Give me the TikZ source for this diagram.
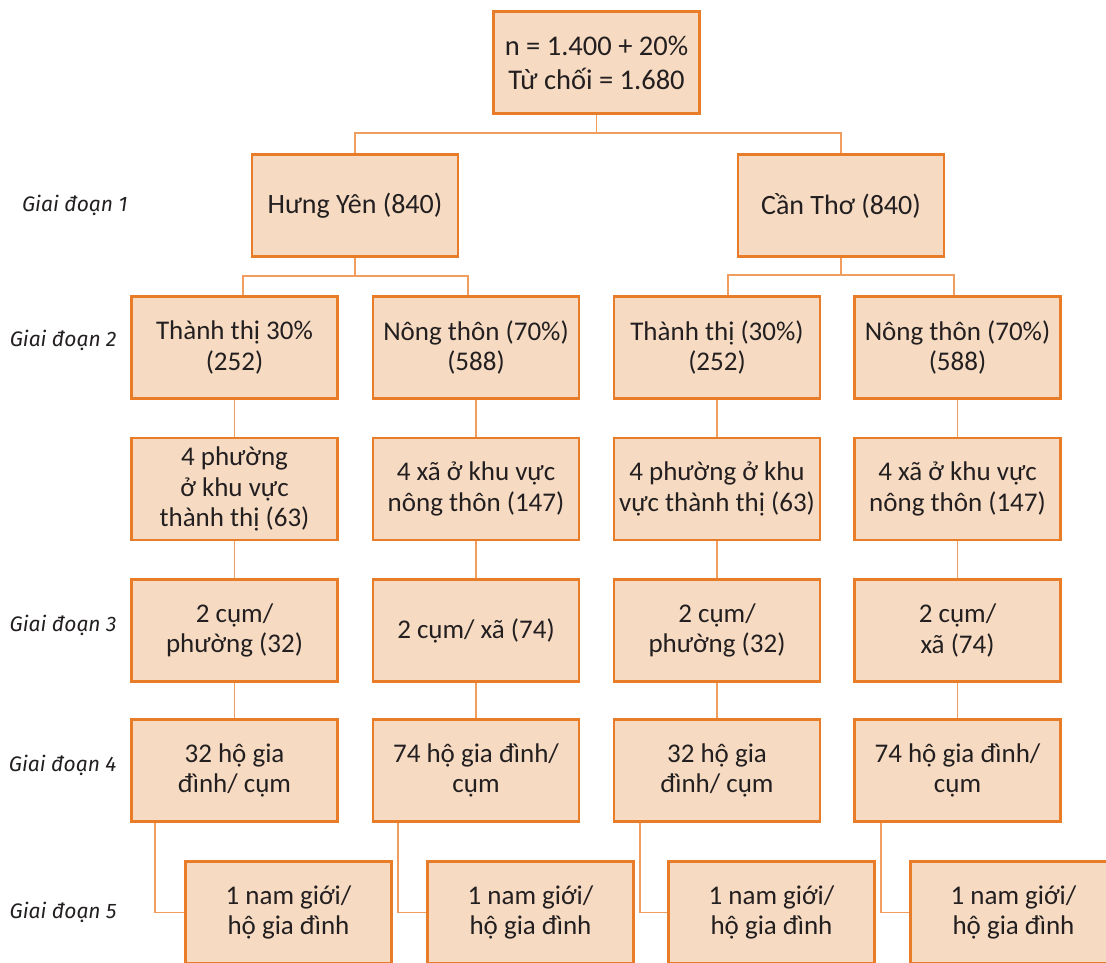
\documentclass[tikz,border=0pt]{standalone}
\usepackage{fontspec}
\setmainfont{Carlito}
\newfontfamily\labelfont{Fira Sans}
\definecolor{boxfill}{RGB}{246,219,194}
\definecolor{boxline}{RGB}{232,124,40}
\definecolor{linkline}{RGB}{240,158,96}
\definecolor{ink}{RGB}{35,31,32}

\begin{document}
\begin{tikzpicture}[x=1pt, y=-1pt,
  cell/.style={draw=boxline, line width=2.6pt, fill=boxfill, text=ink, inner sep=2pt,
    minimum width=206pt, minimum height=102pt, align=center, font=\fontsize{27}{30.5}\selectfont},
  phaselabel/.style={anchor=east, text=ink, font=\labelfont\fontsize{21}{25}\selectfont\itshape},
  link/.style={draw=linkline, line width=1.4pt}]
  \clip (0,0) rectangle (1106,962);
  \fill[white] (0,0) rectangle (1106,962);

  % stages
  \node[phaselabel] (g1) at (131,205) {Giai đoạn 1};
  \node[phaselabel] (g2) at (120,340) {Giai đoạn 2};
  \node[phaselabel] (g3) at (120,625) {Giai đoạn 3};
  \node[phaselabel] (g4) at (120,765) {Giai đoạn 4};
  \node[phaselabel] (g5) at (120,912) {Giai đoạn 5};

  \node[cell, font=\fontsize{28.5}{34}\selectfont] (root) at (596.5,62.5) {n = 1.400 + 20\%\\Từ chối = 1.680};
  \node[cell, font=\fontsize{28}{31}\selectfont] (hy) at (355,205.5) {Hưng Yên (840)};
  \node[cell, font=\fontsize{28}{31}\selectfont] (ct) at (841,205.5) {Cần Thơ (840)};

  % Hung Yen
  \node[cell] (hyUrb) at (234.5,347.5) {Thành thị 30\%\\(252)};
  \node[cell] (hyRur) at (476,347.5) {Nông thôn (70\%)\\(588)};
  \node[cell] (hyWard) at (234.5,489) {4 phường\\ở khu vực\\thành thị (63)};
  \node[cell] (hyComm) at (476,489) {4 xã ở khu vực\\nông thôn (147)};
  \node[cell] (hyClusU) at (234.5,630.5) {2 cụm/\\phường (32)};
  \node[cell] (hyClusR) at (476,630.5) {2 cụm/ xã (74)};
  \node[cell] (hyHhU) at (234.5,770.5) {32 hộ gia\\đình/ cụm};
  \node[cell] (hyHhR) at (476,770.5) {74 hộ gia đình/\\cụm};
  \node[cell] (hyManU) at (288.5,912.5) {1 nam giới/\\hộ gia đình};
  \node[cell] (hyManR) at (530.5,912.5) {1 nam giới/\\hộ gia đình};

  % Can Tho
  \node[cell] (ctUrb) at (717,347.5) {Thành thị (30\%)\\(252)};
  \node[cell] (ctRur) at (957.5,347.5) {Nông thôn (70\%)\\(588)};
  \node[cell] (ctWard) at (717,489) {4 phường ở khu\\vực thành thị (63)};
  \node[cell] (ctComm) at (957.5,489) {4 xã ở khu vực\\nông thôn (147)};
  \node[cell] (ctClusU) at (717,630.5) {2 cụm/\\phường (32)};
  \node[cell] (ctClusR) at (957.5,630.5) {2 cụm/\\xã (74)};
  \node[cell] (ctHhU) at (717,770.5) {32 hộ gia\\đình/ cụm};
  \node[cell] (ctHhR) at (957.5,770.5) {74 hộ gia đình/\\cụm};
  \node[cell] (ctManU) at (771.5,912.5) {1 nam giới/\\hộ gia đình};
  \node[cell] (ctManR) at (1013.5,912.5) {1 nam giới/\\hộ gia đình};

  % connectors
  \draw[link] (root.south) -- ++(0,18) -| (hy.north);
  \draw[link] (root.south) -- ++(0,18) -| (ct.north);
  \draw[link] (hy.south) -- ++(0,18) -| ([xshift=8.5pt]hyUrb.north);
  \draw[link] (hy.south) -- ++(0,18) -| ([xshift=-8pt]hyRur.north);
  \draw[link] (ct.south) -- ++(0,17) -| ([xshift=11pt]ctUrb.north);
  \draw[link] (ct.south) -- ++(0,17) -| ([xshift=-3.5pt]ctRur.north);
  \foreach \a/\b in {hyUrb/hyWard, hyWard/hyClusU, hyClusU/hyHhU,
                     hyRur/hyComm, hyComm/hyClusR, hyClusR/hyHhR,
                     ctUrb/ctWard, ctWard/ctClusU, ctClusU/ctHhU,
                     ctRur/ctComm, ctComm/ctClusR, ctClusR/ctHhR}
    \draw[link] (\a.south) -- (\b.north);
  \foreach \a/\b/\d in {hyHhU/hyManU/-79.5, hyHhR/hyManR/-78,
                        ctHhU/ctManU/-77, ctHhR/ctManR/-76.5}
    \draw[link] ([xshift=\d pt]\a.south) |- (\b.west);
\end{tikzpicture}
\end{document}
